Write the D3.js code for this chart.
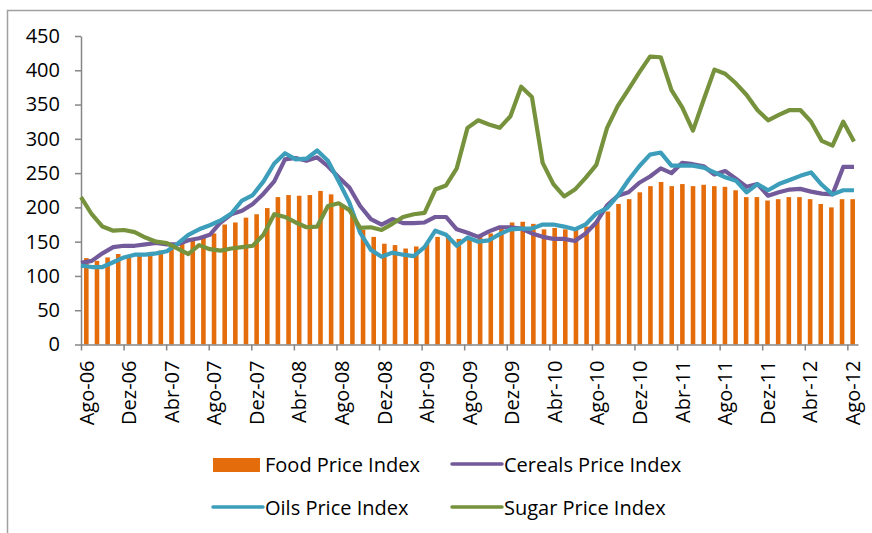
<!DOCTYPE html>
<html>
<head>
<meta charset="utf-8">
<script src="https://d3js.org/d3.v7.min.js"></script>
<style>
  body { margin: 0; background: #fff; }
  text { font-family: "Open Sans", sans-serif; fill: #000; }
</style>
</head>
<body>
<div id="chart"></div>
<script>
// months, Ago-06 .. Ago-12
const months = [
  "Ago-06","Set-06","Out-06","Nov-06","Dez-06",
  "Jan-07","Fev-07","Mar-07","Abr-07","Mai-07","Jun-07","Jul-07","Ago-07","Set-07","Out-07","Nov-07","Dez-07",
  "Jan-08","Fev-08","Mar-08","Abr-08","Mai-08","Jun-08","Jul-08","Ago-08","Set-08","Out-08","Nov-08","Dez-08",
  "Jan-09","Fev-09","Mar-09","Abr-09","Mai-09","Jun-09","Jul-09","Ago-09","Set-09","Out-09","Nov-09","Dez-09",
  "Jan-10","Fev-10","Mar-10","Abr-10","Mai-10","Jun-10","Jul-10","Ago-10","Set-10","Out-10","Nov-10","Dez-10",
  "Jan-11","Fev-11","Mar-11","Abr-11","Mai-11","Jun-11","Jul-11","Ago-11","Set-11","Out-11","Nov-11","Dez-11",
  "Jan-12","Fev-12","Mar-12","Abr-12","Mai-12","Jun-12","Jul-12","Ago-12"
];

// labelled months on the x axis
const xLabels = ["Ago-06","Dez-06","Abr-07","Ago-07","Dez-07","Abr-08","Ago-08","Dez-08","Abr-09","Ago-09",
  "Dez-09","Abr-10","Ago-10","Dez-10","Abr-11","Ago-11","Dez-11","Abr-12","Ago-12"];

const yTicks = [0, 50, 100, 150, 200, 250, 300, 350, 400, 450];

const food = [126,122,127,132,130,131,135,137,142,147,151,158,
  162,175,178,185,190,199,215,218,217,218,224,219,
  204,190,167,157,147,145,140,143,147,157,159,154,
  156,160,162,169,178,179,176,168,170,168,167,172,
  181,194,205,212,222,231,237,231,234,231,233,231,
  230,225,215,215,210,212,215,215,212,205,200,212,
  212];

const cereals = [119,122,133,142,144,144,146,148,146,146,152,155,
  160,178,190,195,205,220,238,270,272,268,273,260,
  244,229,202,183,175,183,177,177,178,186,186,168,
  163,157,165,171,171,169,162,157,154,154,151,162,
  178,203,217,222,236,245,257,250,265,263,260,248,
  253,242,230,234,217,222,226,227,223,220,219,259,
  259];

const oils = [115,113,113,120,127,131,131,133,136,147,160,168,
  174,181,191,210,218,238,264,279,270,271,283,268,
  238,207,163,138,128,134,131,129,142,166,160,144,
  156,150,152,161,168,169,169,175,175,172,168,175,
  191,199,217,240,260,277,280,261,261,261,258,251,
  244,239,222,234,225,234,240,246,251,233,219,225,
  225];

const sugar = [215,190,172,166,167,164,156,150,148,140,132,145,
  139,137,140,142,144,160,190,186,178,171,172,202,
  206,196,170,171,167,176,186,190,192,226,232,257,
  316,327,321,316,333,376,361,265,234,216,226,243,
  262,316,348,372,397,420,419,371,346,312,357,401,
  395,381,364,342,327,335,342,342,325,297,290,325,
  296];

const width = 872, height = 533;
const axisColor = "#868686";

const svg = d3.select("#chart")
  .append("svg")
  .attr("width", width)
  .attr("height", height);

// chart area border (only top/left visible in the crop)
svg.append("rect")
  .attr("x", 7.5).attr("y", 10.5)
  .attr("width", 900).attr("height", 600)
  .attr("fill", "none")
  .attr("stroke", "#a0a0a0")
  .attr("stroke-width", 1.5);

// scales
const x = d3.scaleBand()
  .domain(months)
  .range([81, 858])
  .paddingInner(0.57)
  .paddingOuter(0.285);

const xTick = d3.scaleLinear().domain([0, months.length]).range([81, 858]);

// the line series sit on their own category positions
const xLine = d3.scalePoint().domain(months).range([81, 854]);

const y = d3.scaleLinear().domain([0, 450]).range([344.5, 36]);

// bars
svg.append("g")
  .selectAll("rect")
  .data(food)
  .join("rect")
  .attr("x", (d, i) => x(months[i]))
  .attr("y", d => y(d))
  .attr("width", x.bandwidth())
  .attr("height", d => y(0) - y(d))
  .attr("fill", "#E46C0A");

// X axis tick marks between categories
svg.append("g")
  .attr("transform", `translate(0,${y(0)})`)
  .call(d3.axisBottom(xTick)
    .tickValues(d3.range(0, months.length, 4))
    .tickFormat("")
    .tickSize(6)
    .tickSizeOuter(0))
  .call(g => g.selectAll("line").attr("stroke", axisColor).attr("stroke-width", 1.5))
  .call(g => g.select(".domain").attr("stroke", axisColor).attr("stroke-width", 1.5));

// X axis labels centred on categories
svg.append("g")
  .attr("transform", `translate(0,${y(0)})`)
  .call(d3.axisBottom(x).tickValues(xLabels).tickSize(0))
  .call(g => g.select(".domain").remove())
  .selectAll("text")
  .attr("transform", "rotate(-90)")
  .attr("x", -16)
  .attr("y", 0)
  .attr("dy", "0.36em")
  .style("text-anchor", "end")
  .style("font-size", "20px")
  .style("font-family", "'Open Sans', sans-serif")
  .attr("fill", "#000");

// Y axis
svg.append("g")
  .attr("transform", "translate(81,0)")
  .call(d3.axisLeft(y).tickValues(yTicks).tickSize(6).tickPadding(15).tickSizeOuter(0))
  .call(g => g.selectAll("line").attr("stroke", axisColor).attr("stroke-width", 1.5))
  .call(g => g.select(".domain").attr("stroke", axisColor).attr("stroke-width", 1.5))
  .selectAll("text")
  .style("font-size", "20px")
  .style("font-family", "'Open Sans', sans-serif")
  .attr("fill", "#000");

// lines
const series = [
  { name: "Cereals Price Index", values: cereals, color: "#735A9A" },
  { name: "Oils Price Index", values: oils, color: "#3C9EBB" },
  { name: "Sugar Price Index", values: sugar, color: "#76923C" }
];

const line = d3.line()
  .x((d, i) => xLine(months[i]))
  .y(d => y(d));

svg.append("g")
  .selectAll("path")
  .data(series)
  .join("path")
  .attr("d", s => line(s.values))
  .attr("fill", "none")
  .attr("stroke", s => s.color)
  .attr("stroke-width", 4.2)
  .attr("stroke-linejoin", "round")
  .attr("stroke-linecap", "butt");

// legend
const legend = svg.append("g").style("font-size", "20px");

legend.append("rect")
  .attr("x", 213).attr("y", 458)
  .attr("width", 47).attr("height", 14)
  .attr("fill", "#E46C0A");
legend.append("text").attr("x", 265).attr("y", 472).text("Food Price Index");

const legendPos = [
  { x: 452, y: 464 },
  { x: 213, y: 507 },
  { x: 452, y: 507 }
];

series.forEach((s, i) => {
  const p = legendPos[i];
  legend.append("line")
    .attr("x1", p.x).attr("x2", p.x + 50)
    .attr("y1", p.y).attr("y2", p.y)
    .attr("stroke", s.color)
    .attr("stroke-width", 3.5)
    .attr("stroke-linecap", "round");
  legend.append("text")
    .attr("x", p.x + 52)
    .attr("y", p.y + 8)
    .text(s.name);
});
</script>
</body>
</html>
